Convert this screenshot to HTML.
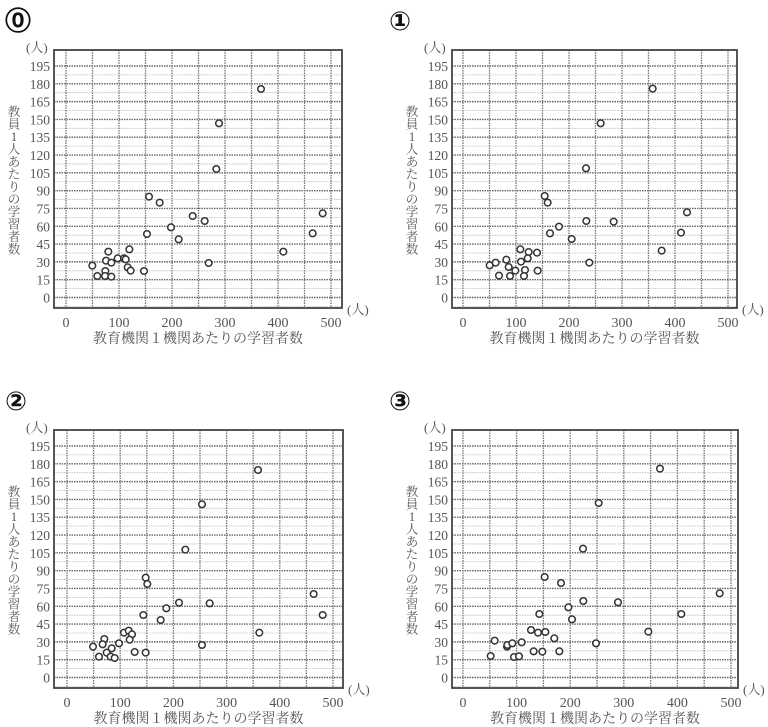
<!DOCTYPE html>
<html><head><meta charset="utf-8"><style>
html,body{margin:0;padding:0;background:#fff;}
svg{display:block}
text{font-family:"Liberation Serif","Noto Serif CJK SC",serif;fill:#555}
</style></head><body>
<svg id="s" width="768" height="727" viewBox="0 0 768 727" xmlns="http://www.w3.org/2000/svg"></svg>
<script>
const P=[
 {ox:0,oy:0,n:"⓪",bx0:54,bx1:342,x0:66,x1:331,pts:[[783,267],[657,370],[649,507],[447,590],[479,608],[578,648],[614,663],[513,682],[441,702],[536,718],[968,640],[938,700],[850,755],[626,789],[325,755],[388,748],[353,775],[372,775],[377,778],[318,782],[334,788],[277,797],[316,813],[383,802],[392,812],[432,813],[292,828],[315,828],[334,830]]},
 {ox:384,oy:0,n:"①",bx0:68,bx1:353,x0:79,x1:344,pts:[[806,266],[650,370],[606,505],[482,588],[491,608],[498,700],[525,680],[563,717],[607,663],[689,665],[909,637],[891,698],[833,752],[616,788],[409,748],[434,756],[459,758],[431,775],[411,785],[367,779],[374,801],[394,812],[423,810],[461,812],[420,828],[378,828],[345,827],[317,796],[335,788]]},
 {ox:0,oy:380,n:"②",bx0:54,bx1:343,x0:67,x1:333,pts:[[774,270],[606,373],[556,509],[437,593],[442,612],[430,705],[482,720],[499,685],[537,668],[629,670],[941,642],[968,705],[778,758],[606,795],[437,818],[404,816],[372,758],[386,752],[396,763],[389,779],[357,790],[313,777],[308,793],[279,800],[335,805],[320,818],[297,830],[332,830],[344,834]]},
 {ox:384,oy:380,n:"③",bx0:68,bx1:354,x0:79,x1:347,pts:[[828,266],[644,369],[597,506],[482,591],[531,609],[553,682],[598,663],[702,667],[564,718],[466,702],[1007,640],[892,702],[793,755],[636,790],[441,750],[462,758],[484,756],[511,775],[332,782],[369,800],[370,795],[385,790],[413,787],[449,814],[475,815],[526,814],[320,828],[390,831],[405,829]]}
];
let h="";
const by0=50,by1=308,y0=297.5,y195=66;
for(const p of P){
 h+=`<g transform="translate(${p.ox},${p.oy})">`;
 h+=`<text x="5" y="30" style="font-family:'DejaVu Sans',sans-serif;font-size:26px;font-weight:bold;fill:#111">${p.n}</text>`;
 const sy=(y0-y195)/13;
 for(let k=-1;k<=26;k++){
  const y=y0-k*sy/2; if(y<=by0+1||y>=by1-1)continue;
  const major=k%2==0;
  h+=`<line x1="${p.bx0}" x2="${p.bx1}" y1="${y}" y2="${y}" stroke="${major?'#666':'#bbb'}" stroke-width="${major?1.4:0.8}" stroke-dasharray="1.5 1"/>`;
 }
 const sx=(p.x1-p.x0)/10;
 for(let k=0;k<=10;k++){
  const x=p.x0+k*sx;
  h+=`<line x1="${x}" x2="${x}" y1="${by0}" y2="${by1}" stroke="#777" stroke-width="1.3" stroke-dasharray="1.5 1"/>`;
 }
 h+=`<rect x="${p.bx0}" y="${by0}" width="${p.bx1-p.bx0}" height="${by1-by0}" fill="none" stroke="#444" stroke-width="1.8"/>`;
 for(let k=0;k<=13;k++){
  const y=y0-k*sy;
  h+=`<text x="${p.bx0-4}" y="${y+5}" font-size="13.5" text-anchor="end">${k*15}</text>`;
 }
 for(let k=0;k<=5;k++){
  const x=p.x0+k*2*sx;
  h+=`<text x="${x}" y="327" font-size="14" text-anchor="middle">${k*100}</text>`;
 }
 h+=`<text x="${p.bx0-28}" y="52" font-size="13">(人)</text>`;
 h+=`<text x="${p.bx1+5}" y="314" font-size="13">(人)</text>`;
 const ylab="教員1人あたりの学習者数";
 for(let i=0;i<ylab.length;i++){
  h+=`<text x="${p.bx0-40}" y="${116+i*12.5}" font-size="12.5" text-anchor="middle">${ylab[i]}</text>`;
 }
 h+=`<text x="${(p.bx0+p.bx1)/2}" y="343" font-size="14" text-anchor="middle">教育機関１機関あたりの学習者数</text>`;
 for(const q of p.pts){
  h+=`<circle cx="${q[0]/3}" cy="${q[1]/3}" r="3.3" fill="#fff" stroke="#333" stroke-width="1.5"/>`;
 }
 h+=`</g>`;
}
document.getElementById("s").innerHTML=h;
</script>
</body></html>
